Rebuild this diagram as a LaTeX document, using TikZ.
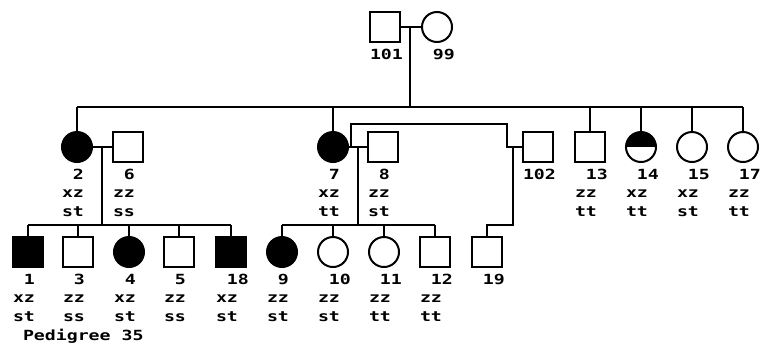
\documentclass[tikz,border=0pt]{standalone}
\usepackage{fontspec}
\newfontfamily\pedfont{DejaVu Sans Mono}[FakeStretch=1.3]
\usetikzlibrary{calc}

\begin{document}
\begin{tikzpicture}[x=1pt, y=-1pt, line width=2pt,
    male/.style={rectangle, draw, minimum size=30pt, inner sep=0pt},
    female/.style={circle, draw, minimum size=30pt, inner sep=0pt},
    aff/.style={fill=black},
    half/.style={path picture={\fill (path picture bounding box.west) rectangle (path picture bounding box.north east);}},
    lab/.style={anchor=north west, inner sep=0pt, yshift=-5pt, align=left,
                font=\pedfont\bfseries\fontsize{14pt}{18.5pt}\selectfont}
]
    \useasboundingbox (0,0) rectangle (767,346);

    % generation I
    \node[male] (p101) at (385,27) {};
    \node[female] (p99) at (437,27) {};
    \node[lab] (l101) at (p101.west |- p101.south) {101};
    \node[lab] (l99) at (p99.west |- p99.south) {\phantom{0}99};

    % generation II
    \node[female, aff] (p2) at (77,147) {};
    \node[male] (p6) at (128,147) {};
    \node[female, aff] (p7) at (333,147) {};
    \node[male] (p8) at (383,147) {};
    \node[male] (p102) at (538,147) {};
    \node[male] (p13) at (590,147) {};
    \node[female, half] (p14) at (641,147) {};
    \node[female] (p15) at (692,147) {};
    \node[female] (p17) at (743,147) {};

    \node[lab] (l2) at (p2.west |- p2.south) {\phantom{0}2\\xz\\st};
    \node[lab] (l6) at (p6.west |- p6.south) {\phantom{0}6\\zz\\ss};
    \node[lab] (l7) at (p7.west |- p7.south) {\phantom{0}7\\xz\\tt};
    \node[lab] (l8) at (p8.west |- p8.south) {\phantom{0}8\\zz\\st};
    \node[lab] (l102) at (p102.west |- p102.south) {102};
    \node[lab] (l13) at (p13.west |- p13.south) {\phantom{0}13\\zz\\tt};
    \node[lab] (l14) at (p14.west |- p14.south) {\phantom{0}14\\xz\\tt};
    \node[lab] (l15) at (p15.west |- p15.south) {\phantom{0}15\\xz\\st};
    \node[lab] (l17) at (p17.west |- p17.south) {\phantom{0}17\\zz\\tt};

    % generation III
    \node[male, aff] (p1) at (28,252) {};
    \node[male] (p3) at (78,252) {};
    \node[female, aff] (p4) at (129,252) {};
    \node[male] (p5) at (179,252) {};
    \node[male, aff] (p18) at (231,252) {};
    \node[female, aff] (p9) at (282,252) {};
    \node[female] (p10) at (333,252) {};
    \node[female] (p11) at (384,252) {};
    \node[male] (p12) at (435,252) {};
    \node[male] (p19) at (487,252) {};

    \node[lab] (l1) at (p1.west |- p1.south) {\phantom{0}1\\xz\\st};
    \node[lab] (l3) at (p3.west |- p3.south) {\phantom{0}3\\zz\\ss};
    \node[lab] (l4) at (p4.west |- p4.south) {\phantom{0}4\\xz\\st};
    \node[lab] (l5) at (p5.west |- p5.south) {\phantom{0}5\\zz\\ss};
    \node[lab] (l18) at (p18.west |- p18.south) {\phantom{0}18\\xz\\st};
    \node[lab] (l9) at (p9.west |- p9.south) {\phantom{0}9\\zz\\st};
    \node[lab] (l10) at (p10.west |- p10.south) {\phantom{0}10\\zz\\st};
    \node[lab] (l11) at (p11.west |- p11.south) {\phantom{0}11\\zz\\tt};
    \node[lab] (l12) at (p12.west |- p12.south) {\phantom{0}12\\zz\\tt};
    \node[lab] (l19) at (p19.west |- p19.south) {\phantom{0}19};

    \node[lab, yshift=5pt] (title) at (22,328) {Pedigree 35};

    % marriages and descent
    \coordinate (sib2) at (0,107);
    \coordinate (sib3) at (0,225);
    \coordinate (m1) at (410,27);
    \coordinate (m2) at (102,147);
    \coordinate (m3) at (358,147);
    \coordinate (m4) at (513,147);
    \coordinate (tie) at (507,124);

    \draw (p101) -- (p99);
    \draw (m1) -- (m1 |- sib2);
    \draw (p2.north |- sib2) -- (p17.north |- sib2);
    \foreach \c in {p2,p7,p13,p14,p15,p17}
        \draw (\c.north) -- (\c.north |- sib2);

    \draw (p2) -- (p6);
    \draw (m2) -- (m2 |- sib3);
    \draw (p1.north |- sib3) -- (p18.north |- sib3);
    \foreach \c in {p1,p3,p4,p5,p18}
        \draw (\c.north) -- (\c.north |- sib3);

    \draw (p7) -- (p8);
    \draw (m3) -- (m3 |- sib3);
    \draw (p9.north |- sib3) -- (p12.north |- sib3);
    \foreach \c in {p9,p10,p11,p12}
        \draw (\c.north) -- (\c.north |- sib3);

    \draw ($(p7.east)+(2,0)$) |- (tie) |- (p102.west);
    \draw (m4) |- (p19.north |- sib3) -- (p19.north);
\end{tikzpicture}
\end{document}
